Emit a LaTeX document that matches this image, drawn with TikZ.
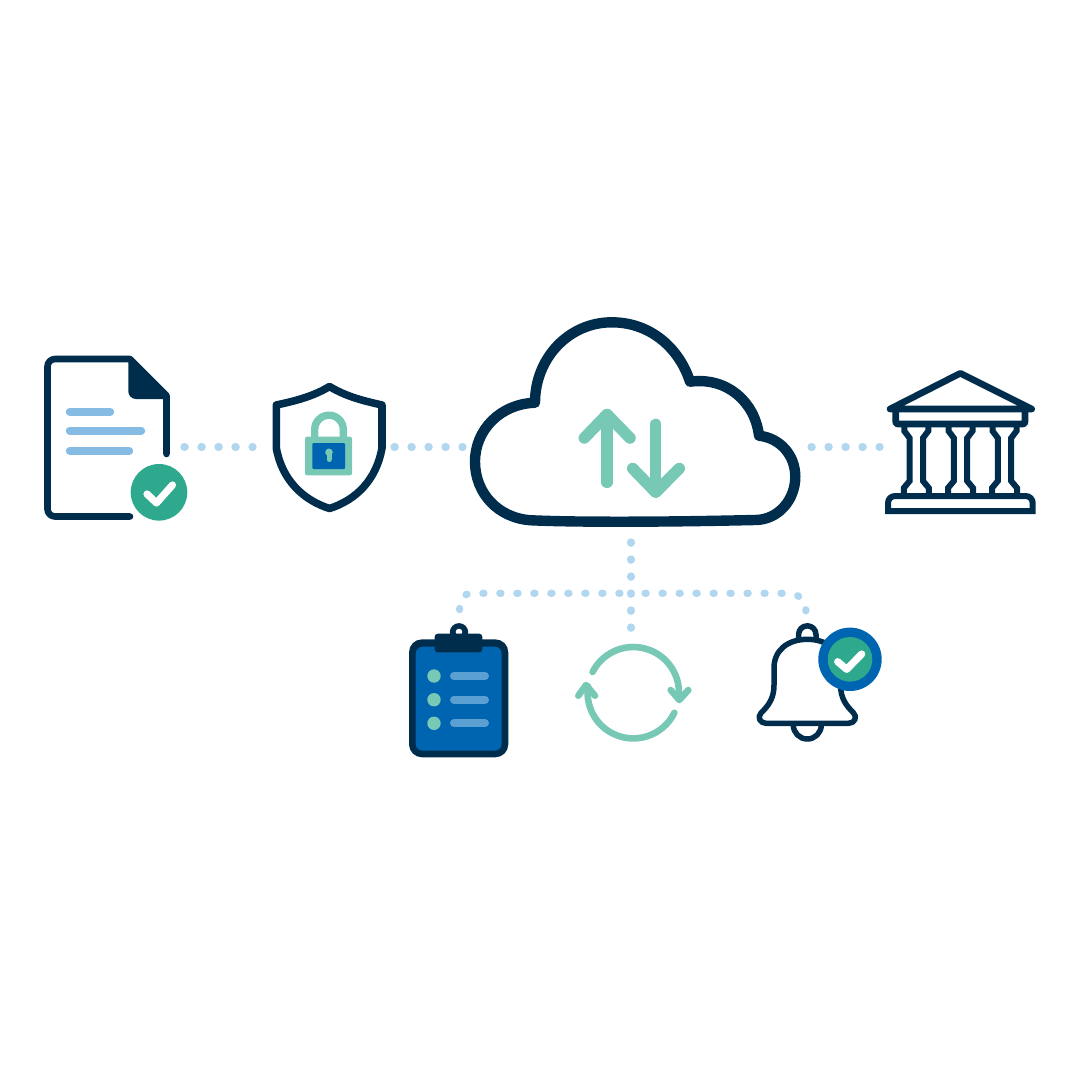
\documentclass[tikz,border=0pt]{standalone}
\usepackage{tikz}
\usetikzlibrary{arrows, positioning}
\definecolor{navyInk}{HTML}{012D4D}
\definecolor{dotBlue}{HTML}{B0D6F0}
\definecolor{lineBlue}{HTML}{86BBE3}
\definecolor{padBlue}{HTML}{0065B1}
\definecolor{padLine}{HTML}{5BA0D3}
\definecolor{badgeGreen}{HTML}{2EA98D}
\definecolor{softTeal}{HTML}{78C8B6}
\begin{document}
\begin{tikzpicture}[x=1pt, y=1pt, yscale=-1]
		\tikzstyle{IconBox} = [rectangle, inner sep=0pt, outer sep=0pt]
		\tikzstyle{DotLink} = [dotBlue, line width=7.2pt, line cap=round, dash pattern=on 1.2pt off 15.8pt, shorten >=-1pt]
		\tikzstyle{Outline} = [navyInk, line width=6.6pt, line join=round, line cap=round]
		\tikzstyle{TextBar} = [lineBlue, line width=7.8pt, line cap=round]
		\tikzstyle{PadBar} = [padLine, line width=8pt, line cap=round]
		\tikzstyle{TealStroke} = [softTeal, line width=11.5pt, line join=round, line cap=round]
		\tikzstyle{TickMark} = [white, line width=7.2pt, line join=round, line cap=round]

		\useasboundingbox (0,0) rectangle (1080,1080);

		\node (docBox) [IconBox, minimum width=139pt, minimum height=170pt] at (114.5,447) {};
		\node (shieldBox) [IconBox, minimum width=142pt, minimum height=130pt, right = 68pt of docBox] {};
		\node (cloudBox) [IconBox, minimum width=349pt, minimum height=190pt, right = 68pt of shieldBox] {};
		\node (bankBox) [IconBox, minimum width=162pt, minimum height=150pt, right = 68pt of cloudBox] {};
		\node (clipBox) [IconBox, minimum width=99pt, minimum height=146pt] at (459.5,684) {};
		\node (syncBox) [IconBox, minimum width=110pt, minimum height=114pt] at (631,685) {};
		\node (bellBox) [IconBox, minimum width=120pt, minimum height=134pt] at (806,678) {};
		\coordinate (hubL) at (620,593.3);
		\coordinate (hubR) at (645,593.3);

		\draw[DotLink] (docBox) ++(69.5,0) -- (shieldBox.west);
		\draw[DotLink] (shieldBox.east) -- (cloudBox.west);
		\draw[DotLink] (cloudBox.east) -- (bankBox.west);
		\draw[DotLink] (cloudBox.south -| syncBox.north) -- (syncBox.north);
		\draw[DotLink] (hubL) -- (472,593.3) .. controls (463,593.3) and (459.5,600) .. (clipBox.north);
		\draw[DotLink] (hubR) -- (785,593.3) .. controls (800,593.3) and (806,600) .. (bellBox.north);

		\fill[navyInk] (128.3,359) -- (130,359) -- (166.5,395.5) -- (166.5,399) -- (136,399) arc (90:180:7.7) -- cycle;
		\draw[Outline] (130,516.5) -- (55,516.5) arc (90:180:7.5) -- (47.5,366.5) arc (180:270:7.5) -- (130,359) -- (166.5,395.5) -- (166.5,454);
		\draw[TextBar] (69.7,411.7) -- (110.3,411.7);
		\draw[TextBar] (69.7,430.7) -- (141.3,430.7);
		\draw[TextBar] (69.7,451) -- (129.3,451);
		\fill[badgeGreen] (159,492.3) circle (28.3);
		\draw[TickMark] (147,494) -- (156.5,503) -- (172.5,485);

		\draw[Outline, line width=7.6pt] (329.5,386.5) .. controls (313,396.5) and (295,401) .. (276.3,405) -- (276.3,448) .. controls (282,480) and (303,500) .. (329.5,508.5) .. controls (356,500) and (376.3,480) .. (382,448) -- (382,405) .. controls (364,401) and (346,396.5) .. cycle;
		\draw[softTeal, line width=7.4pt] (314.7,438) -- (314.7,429.5) arc (180:360:14.3) -- (343.3,438);
		\fill[softTeal, rounded corners=2pt] (305,436.7) rectangle (352,475.3);
		\fill[padBlue, rounded corners=1pt] (312.3,443) rectangle (345,469);
		\fill[softTeal] (329,452.3) circle (3.8);
		\draw[softTeal, line width=5pt, line cap=round] (329,453) -- (329,459.5);

		\draw[Outline, line width=10.4pt] (531.7,520.3) .. controls (560,521.5) and (590,521.7) .. (620,521.7) .. controls (665,521.7) and (710,521) .. (755,520) .. controls (778,520) and (795.3,500) .. (795.3,476.7) .. controls (795.3,455) and (780,438) .. (759,435.7) .. controls (755,401.7) and (726.7,376.7) .. (690,381.7) .. controls (680,350) and (652,322.3) .. (611.7,322.3) .. controls (569,322.3) and (535,358) .. (535,402.7) .. controls (500,404) and (475,430) .. (475,461.7) .. controls (475,493) and (498,518.5) .. cycle;
		\draw[TealStroke] (607,482.3) -- (607,414.5);
		\draw[TealStroke] (584.3,438) -- (607,414.5) -- (630,438);
		\draw[TealStroke] (655.7,424.3) -- (655.7,492.2);
		\draw[TealStroke] (632.7,468.5) -- (655.7,492.2) -- (679.3,468.5);

		\draw[Outline] (890,409) -- (960.3,373.3) -- (1031.7,409) -- cycle;
		\draw[Outline, line cap=butt, rounded corners=2pt] (895.7,409) -- (895.7,424) -- (1025,424) -- (1025,409);
		\foreach \cx in {916.3,960.5,1004.5} {
			\draw[navyInk, line width=6pt] (\cx-12,425) -- (\cx-12,431) -- (\cx-6.7,438) -- (\cx-6.7,481) -- (\cx-12.5,488) -- (\cx-12.5,496);
			\draw[navyInk, line width=6pt] (\cx+12,425) -- (\cx+12,431) -- (\cx+6.7,438) -- (\cx+6.7,481) -- (\cx+12.5,488) -- (\cx+12.5,496);
		}
		\draw[navyInk, line width=6pt] (888,511) -- (888,503) arc (180:270:7) -- (1025.7,496) arc (270:360:7) -- (1032.7,511) -- cycle;

		\fill[navyInk] (459,632.3) circle (9.2);
		\fill[white] (459,632) circle (3.3);
		\fill[navyInk, rounded corners=13pt] (409,639.3) rectangle (508.3,757.3);
		\fill[padBlue, rounded corners=7pt] (415.7,646.7) rectangle (501.7,750.7);
		\fill[navyInk, rounded corners=3pt] (434.7,633.7) rectangle (482.3,652.3);
		\foreach \rowy in {676,699.7,723.3} {
			\fill[softTeal] (434,\rowy) circle (6.7);
			\draw[PadBar] (454,\rowy) -- (485,\rowy);
		}

		\draw[TealStroke, line width=6.6pt] (633.3,692.7) ++(207:45.7) arc (207:360:45.7);
		\draw[TealStroke, line width=6.6pt] (670.7,690) -- (679.3,700) -- (688.3,690);
		\draw[TealStroke, line width=6.6pt] (633.3,692.7) ++(26:45.7) arc (26:188:45.7);
		\draw[TealStroke, line width=6.6pt] (578.3,695.7) -- (586,685) -- (595,695.7);

		\draw[Outline, line width=5.5pt] (798.6,640) -- (798.6,634.5) arc (180:360:8.7) -- (816,640);
		\draw[Outline, line width=5.5pt] (793.3,725) arc (180:0:14);
		\draw[Outline, line width=5.5pt, fill=white] (766,723.3) .. controls (760,723.3) and (757,717) .. (761,713) .. controls (769,705) and (774,698) .. (774,685) -- (774,668) .. controls (774,650) and (788,639.3) .. (807.3,639.3) .. controls (826.6,639.3) and (840.6,650) .. (840.6,668) -- (840.6,685) .. controls (840.6,698) and (845.6,705) .. (853.6,713) .. controls (857.6,717) and (854.6,723.3) .. (848.6,723.3) -- cycle;
		\fill[padBlue] (850,659.3) circle (31.7);
		\fill[badgeGreen] (850,659.3) circle (22.3);
		\draw[TickMark] (837.7,661.7) -- (846.7,669.3) -- (861.7,654);
\end{tikzpicture}
\end{document}
